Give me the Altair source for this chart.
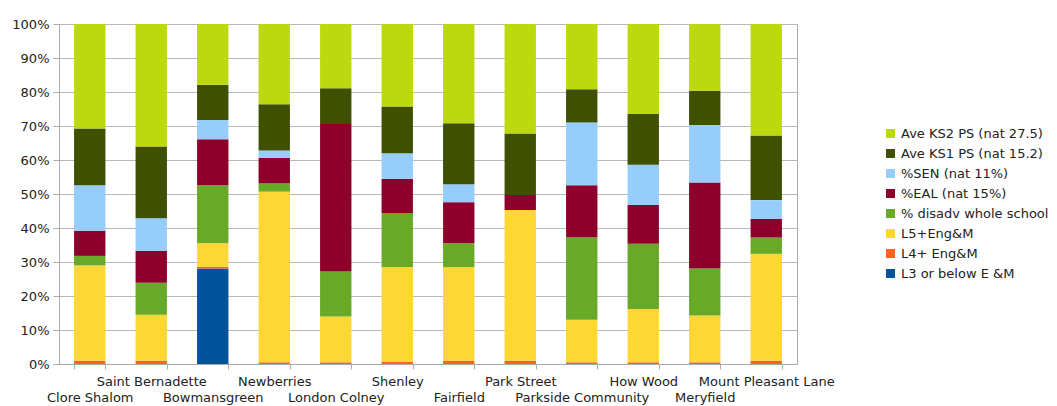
import altair as alt
import pandas as pd

schools = ["Clore Shalom", "Saint Bernadette", "Bowmansgreen", "Newberries",
           "London Colney", "Shenley", "Fairfield", "Park Street",
           "Parkside Community", "How Wood", "Meryfield", "Mount Pleasant Lane"]

# series, bottom of stack first
series = ["L3 or below E &M", "L4+ Eng&M", "L5+Eng&M", "% disadv whole school",
          "%EAL (nat 15%)", "%SEN (nat 11%)", "Ave KS1 PS (nat 15.2)", "Ave KS2 PS (nat 27.5)"]
colors = ["#00549a", "#ff6320", "#fdd835", "#68a928",
          "#8e002c", "#96cdfb", "#3f5000", "#bcd80e"]

l3     = [0,    0,    28.1, 0,    0,    0,    0,    0,    0,    0,    0,    0]
l4     = [1.0,  1.0,  0.5,  0.5,  0.5,  0.6,  1.0,  1.0,  0.5,  0.5,  0.5,  1.0]
l5     = [28.0, 13.5, 6.9,  50.2, 13.5, 27.9, 27.5, 44.3, 12.5, 15.7, 13.8, 31.4]
disadv = [2.8,  9.4,  17.1, 2.4,  13.2, 15.9, 7.0,  0.0,  24.3, 19.2, 13.8, 4.8]
eal    = [7.4,  9.4,  13.5, 7.5,  43.4, 10.1, 12.1, 4.4,  15.3, 11.4, 25.3, 5.5]
sen    = [13.4, 9.6,  5.7,  2.2,  0.0,  7.5,  5.3,  0.0,  18.4, 11.8, 16.9, 5.5]
ks1    = [16.7, 21.1, 10.3, 13.6, 10.5, 13.7, 17.9, 18.1, 9.8,  14.9, 10.1, 19.0]
ks2    = [30.7, 36.0, 17.9, 23.6, 18.9, 24.3, 29.2, 32.2, 19.2, 26.5, 19.6, 32.8]

values = [l3, l4, l5, disadv, eal, sen, ks1, ks2]

rows = []
for si, (name, vals) in enumerate(zip(series, values)):
    for school, v in zip(schools, vals):
        rows.append({"school": school, "series": name, "value": v, "order": si})
df = pd.DataFrame(rows)

row1 = [s for i, s in enumerate(schools) if i % 2 == 1]
row1_js = "[" + ",".join("'" + s + "'" for s in row1) + "]"

legend_domain = series[::-1]
legend_range = colors[::-1]

chart = alt.Chart(df).mark_bar().encode(
    x=alt.X("school:N", sort=schools, title=None,
            scale=alt.Scale(paddingInner=0.49, paddingOuter=0.245),
            axis=alt.Axis(labelAngle=0, tickBand="extent", tickSize=5, labelPadding=6,
                          labelFontSize=13, labelColor="#222", labelLineHeight=16,
                          labelBaseline="top",
                          labelExpr="indexof(" + row1_js + ", datum.value) >= 0 ? datum.value : ['', datum.value]",
                          domainColor="#aaaaaa", tickColor="#aaaaaa", grid=False)),
    y=alt.Y("value:Q", stack="normalize", title=None,
            scale=alt.Scale(domain=[0, 1]),
            axis=alt.Axis(format="%", values=[i / 10 for i in range(11)], tickSize=6,
                          labelPadding=4, labelFontSize=13, labelColor="#222",
                          domainColor="#aaaaaa", tickColor="#aaaaaa",
                          gridColor="#b8b8b8")),
    color=alt.Color("series:N", title=None,
                    scale=alt.Scale(domain=legend_domain, range=legend_range),
                    legend=alt.Legend(orient="none", legendX=825, legendY=103,
                                      symbolType="square", symbolSize=81,
                                      symbolStrokeWidth=0, labelFontSize=13,
                                      labelColor="#222", rowPadding=6,
                                      labelOffset=4, labelLimit=300)),
    order=alt.Order("order:Q", sort="ascending"),
).properties(
    width=738, height=340,
    autosize=alt.AutoSizeParams(type="none"),
    padding={"left": 59, "top": 24, "right": 260, "bottom": 42},
).configure(
    font="DejaVu Sans",
).configure_view(
    stroke="#aaaaaa",
)

chart.save("out.html", embed_options={"renderer": "svg", "actions": False})
